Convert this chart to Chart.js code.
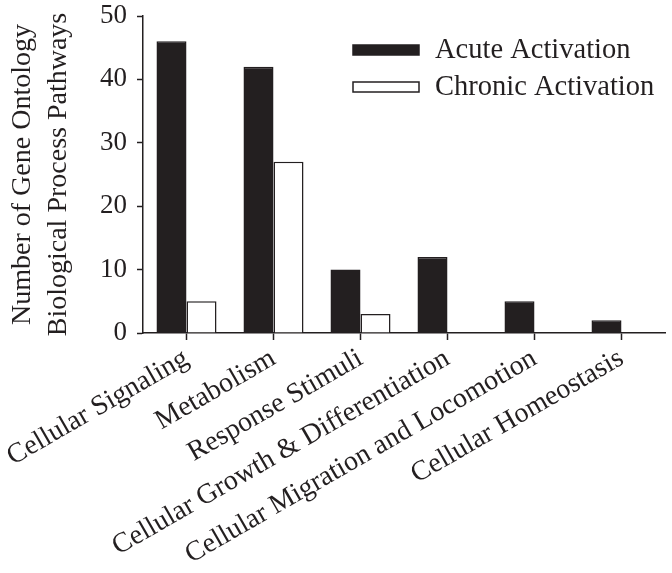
<!DOCTYPE html>
<html>
<head>
<meta charset="utf-8">
<script src="https://cdn.jsdelivr.net/npm/chart.js@4.4.1/dist/chart.umd.min.js"></script>
<style>
  html, body { margin: 0; padding: 0; background: #fff; }
  #wrap { width: 672px; height: 573px; position: relative; }
</style>
</head>
<body>
<div id="wrap"><canvas id="goChart"></canvas></div>
<script>
// ====== DATA ======
const categories = ['Cellular Signaling', 'Metabolism', 'Response Stimuli', 'Cellular Growth & Differentiation', 'Cellular Migration and Locomotion', 'Cellular Homeostasis'];
const acuteValues = [46, 42, 10, 12, 5, 2];
const chronicValues = [5, 27, 3, 0, 0, 0];
const seriesNames = ['Acute Activation', 'Chronic Activation'];
const yTitleLines = ['Number of Gene Ontology', 'Biological Process Pathways'];
const yTicks = [0, 10, 20, 30, 40, 50];

const INK = '#231f20';
const SERIF = "'Liberation Serif', 'Times New Roman', serif";

// legend drawn in the upper right of the plot, like the original figure
const boxLegend = {
  id: 'boxLegend',
  afterDraw(chart) {
    const ctx = chart.ctx;
    const x0 = 353, boxW = 66, boxH = 10, rows = [50, 87];
    ctx.save();
    ctx.font = '28.5px ' + SERIF;
    ctx.textBaseline = 'middle';
    ctx.textAlign = 'left';
    chart.data.datasets.forEach((ds, i) => {
      const y = rows[i];
      ctx.fillStyle = ds.backgroundColor;
      ctx.fillRect(x0, y - boxH / 2, boxW, boxH);
      ctx.lineWidth = 1.5;
      ctx.strokeStyle = ds.borderColor;
      ctx.strokeRect(x0, y - boxH / 2, boxW, boxH);
      ctx.fillStyle = INK;
      ctx.fillText(ds.label, x0 + boxW + 16, y + 1);
    });
    ctx.restore();
  }
};

new Chart(document.getElementById('goChart'), {
  type: 'bar',
  data: {
    labels: categories,
    datasets: [
      { label: seriesNames[0], data: acuteValues, backgroundColor: INK, borderColor: INK, borderWidth: 1.5 },
      { label: seriesNames[1], data: chronicValues, backgroundColor: '#ffffff', borderColor: INK, borderWidth: 1.5 }
    ]
  },
  options: {
    responsive: true, maintainAspectRatio: false, animation: false,
    layout: { padding: { left: 4, top: 16, right: 7, bottom: 0 } },
    datasets: { bar: { categoryPercentage: 0.69, barPercentage: 1.0 } },
    plugins: { legend: { display: false }, tooltip: { enabled: false } },
    scales: {
      x: {
        offset: true,
        grid: { display: true, drawOnChartArea: false, offset: false, tickLength: 7, tickColor: INK, tickWidth: 1.5 },
        border: { display: true, color: INK, width: 1.5 },
        ticks: { color: INK, font: { family: SERIF, size: 28 }, autoSkip: false, minRotation: 30, maxRotation: 30, padding: 2 },
        afterFit: s => { s.height = 240; s.paddingLeft = 0; s.paddingRight = 0; }
      },
      y: {
        min: 0, max: 50,
        afterBuildTicks: s => { s.ticks = yTicks.map(v => ({ value: v })); },
        grid: { display: true, drawOnChartArea: false, tickLength: 6, tickColor: INK, tickWidth: 1.5 },
        border: { display: true, color: INK, width: 1.5 },
        ticks: { color: INK, font: { family: SERIF, size: 27 }, padding: 10 },
        title: { display: true, text: yTitleLines, color: INK, font: { family: SERIF, size: 28, lineHeight: 1.3 }, padding: 0 },
        afterFit: s => { s.width = 139; s.paddingTop = 0; s.paddingBottom = 0; }
      }
    }
  },
  plugins: [boxLegend]
});
</script>
</body>
</html>
